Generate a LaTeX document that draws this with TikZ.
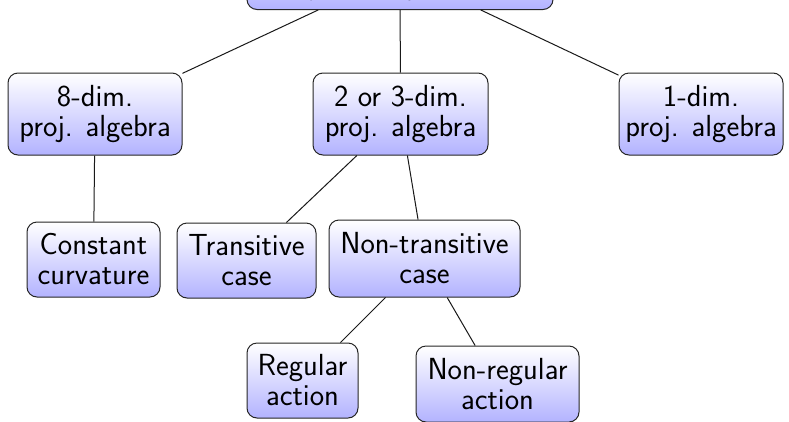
\documentclass[tikz,border=0pt]{standalone}
\begin{document}
\begin{tikzpicture}[x=1pt,y=-1pt,
  box/.style={draw=black!85, line width=1pt, rounded corners=10pt,
    top color=white, bottom color=blue!30, align=center, inner sep=0pt,
    font=\sffamily\fontsize{30.5}{30}\selectfont},
  link/.style={draw=black!90, line width=1pt}]
\useasboundingbox (0,0) rectangle (789,421);
\clip (0,0) rectangle (789,421);
\fill[white] (0,0) rectangle (789,421);

% root of the tree
\node[box, minimum width=306pt, inner ysep=9pt, anchor=south] (top) at (400,10)
  {Algebra of infinitesimal\\projective symmetries};

% dimension of the projective algebra
\node[box, minimum width=174pt, minimum height=82pt] (d8)  at (95,114)    {8-dim.\\proj. algebra};
\node[box, minimum width=175pt, minimum height=82pt] (d23) at (400.5,114) {2 or 3-dim.\\proj. algebra};
\node[box, minimum width=164pt, minimum height=82pt] (d1)  at (701,114)   {1-dim.\\proj. algebra};

% third level
\node[box, minimum width=133pt, minimum height=75pt] (cc) at (93.5,259.5)  {Constant\\curvature};
\node[box, minimum width=139pt, minimum height=75pt] (tr) at (246.5,260.5) {Transitive\\case};
\node[box, minimum width=191pt, minimum height=77pt] (nt) at (424.5,258.5) {Non-transitive\\case};

% action types
\node[box, minimum width=111pt, minimum height=75pt] (ra) at (302.5,380.5) {Regular\\action};
\node[box, minimum width=163pt, minimum height=76pt] (nr) at (497.5,384)   {Non-regular\\action};

% tree edges
\draw[link] (top) -- (d8);
\draw[link] (top) -- (d23);
\draw[link] (top) -- (d1);
\draw[link] (d8) -- (cc);
\draw[link] (d23) -- (tr);
\draw[link] (d23) -- (nt);
\draw[link] (nt) -- (ra);
\draw[link] (nt) -- (nr);
\end{tikzpicture}
\end{document}
